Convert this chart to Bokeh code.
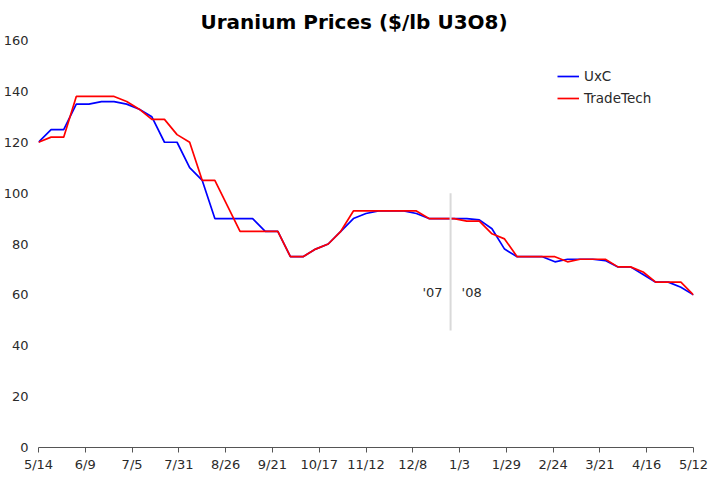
import pandas as pd
from bokeh.plotting import figure
from bokeh.models import (FixedTicker, Legend, LegendItem, Range1d, ColumnDataSource)
from bokeh.core.properties import value
from bokeh.embed import file_html
from bokeh.resources import INLINE

title = "Uranium Prices ($/lb U3O8)"
series_names = ["UxC", "TradeTech"]
week_start = "2007-05-14"
week_end = "2008-05-12"

uxc = [120, 125, 125, 135, 135, 136, 136, 135, 133, 130,
       120, 120, 110, 105, 90, 90, 90, 90, 85, 85,
       75, 75, 78, 80, 85, 90, 92, 93, 93, 93,
       92, 90, 90, 90, 90, 89.5, 86, 78, 75, 75,
       75, 73, 74, 74, 74, 73.5, 71, 71, 68, 65,
       65, 63, 60]
tradetech = [120, 122, 122, 138, 138, 138, 138, 136, 133, 129,
             129, 123, 120, 105, 105, 95, 85, 85, 85, 85,
             75, 75, 78, 80, 85, 93, 93, 93, 93, 93,
             93, 90, 90, 90, 89, 89, 84, 82, 75, 75,
             75, 75, 73, 74, 74, 74, 71, 71, 69, 65,
             65, 65, 60]

tick_dates = ["2007-05-14", "2007-06-09", "2007-07-05", "2007-07-31", "2007-08-26",
              "2007-09-21", "2007-10-17", "2007-11-12", "2007-12-08", "2008-01-03",
              "2008-01-29", "2008-02-24", "2008-03-21", "2008-04-16", "2008-05-12"]
tick_labels = ["5/14", "6/9", "7/5", "7/31", "8/26", "9/21", "10/17", "11/12",
               "12/8", "1/3", "1/29", "2/24", "3/21", "4/16", "5/12"]
y_ticks = [0, 20, 40, 60, 80, 100, 120, 140, 160]

divider_date = "2007-12-29"
divider_low, divider_high = 46, 100
year_labels = ["'07", "'08"]
year_label_y = 61

FONT = "DejaVu Sans"
TXT = "#2a2a2a"

t0 = pd.Timestamp(week_start)
def day(d):
    return (pd.Timestamp(d) - t0).days

dates = pd.date_range(week_start, week_end, freq="7D")
days = [(d - t0).days for d in dates]
src = ColumnDataSource(dict(day=days, uxc=uxc, tt=tradetech))

p = figure(width=711, height=474,
           x_range=Range1d(day(week_start), day(week_end)),
           y_range=Range1d(y_ticks[0], y_ticks[-1]),
           output_backend="svg", toolbar_location=None, title=title,
           min_border_left=0, min_border_right=18, min_border_top=0, min_border_bottom=0)
p.outline_line_color = None
p.grid.grid_line_color = None
p.background_fill_color = "white"

p.title.text_font = FONT
p.title.text_font_size = "20px"
p.title.text_font_style = "bold"
p.title.align = "left"
p.title.offset = 162
p.title.standoff = 14
p.title.text_color = "black"

r1 = p.line("day", "uxc", source=src, line_color="#0000FF", line_width=1.7)
r2 = p.line("day", "tt", source=src, line_color="#FF0000", line_width=1.7)

# divider between years
dv = day(divider_date)
p.segment(x0=[dv], y0=[divider_low], x1=[dv], y1=[divider_high],
          line_color="#D9D9D9", line_width=2)
p.text(x=[dv], y=[year_label_y], text=[year_labels[0]], x_offset=-8,
       text_align="right", text_baseline="middle", text_font=value(FONT),
       text_font_size="13px", text_color=TXT)
p.text(x=[dv], y=[year_label_y], text=[year_labels[1]], x_offset=11,
       text_align="left", text_baseline="middle", text_font=value(FONT),
       text_font_size="13px", text_color=TXT)

xa = p.xaxis[0]
tick_pos = [day(d) for d in tick_dates]
xa.ticker = FixedTicker(ticks=tick_pos)
xa.major_label_overrides = {t: lab for t, lab in zip(tick_pos, tick_labels)}
xa.axis_line_color = "#555555"
xa.major_tick_line_color = "#555555"
xa.major_tick_in = 0
xa.major_tick_out = 5
xa.minor_tick_line_color = None
xa.major_label_text_font = FONT
xa.major_label_text_font_size = "13px"
xa.major_label_text_color = TXT
xa.major_label_standoff = 4

ya = p.yaxis[0]
ya.ticker = FixedTicker(ticks=y_ticks)
ya.axis_line_color = None
ya.major_tick_line_color = None
ya.minor_tick_line_color = None
ya.major_label_text_font = FONT
ya.major_label_text_font_size = "13px"
ya.major_label_text_color = TXT
ya.major_label_standoff = 4

legend = Legend(items=[LegendItem(label=series_names[0], renderers=[r1]),
                       LegendItem(label=series_names[1], renderers=[r2])],
                location=(519, 339), border_line_color=None, background_fill_alpha=0,
                padding=0, spacing=2, glyph_width=22, glyph_height=20, label_height=20,
                label_standoff=5, label_text_font=FONT, label_text_font_size="13.5px",
                label_text_color=TXT, margin=0)
p.add_layout(legend)

open("out.html", "w").write(file_html(p, INLINE))
